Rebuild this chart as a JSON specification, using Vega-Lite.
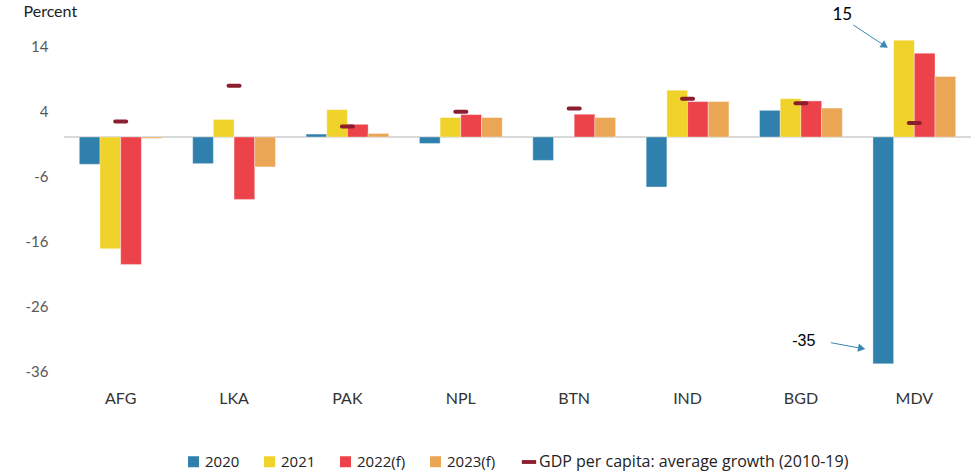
{
  "$schema": "https://vega.github.io/schema/vega-lite/v6.json",
  "width": 907,
  "height": 351,
  "autosize": {"type": "none"},
  "padding": {"left": 64, "top": 20, "right": 0, "bottom": 101},
  "background": "white",
  "config": {
    "view": {"stroke": null},
    "font": "Lato",
    "legend": {"layout": {"bottom": {"anchor": "middle", "direction": "horizontal", "margin": 25}}}
  },
  "datasets": {
    "main": [
      {"country": "AFG", "series": "2020", "value": -4.2},
      {"country": "AFG", "series": "2021", "value": -17.2},
      {"country": "AFG", "series": "2022(f)", "value": -19.6},
      {"country": "AFG", "series": "2023(f)", "value": -0.2},
      {"country": "AFG", "series": "GDP per capita: average growth (2010-19)", "value": 2.4},
      {"country": "LKA", "series": "2020", "value": -4.1},
      {"country": "LKA", "series": "2021", "value": 2.7},
      {"country": "LKA", "series": "2022(f)", "value": -9.6},
      {"country": "LKA", "series": "2023(f)", "value": -4.6},
      {"country": "LKA", "series": "GDP per capita: average growth (2010-19)", "value": 7.9},
      {"country": "PAK", "series": "2020", "value": 0.45},
      {"country": "PAK", "series": "2021", "value": 4.2},
      {"country": "PAK", "series": "2022(f)", "value": 1.95},
      {"country": "PAK", "series": "2023(f)", "value": 0.55},
      {"country": "PAK", "series": "GDP per capita: average growth (2010-19)", "value": 1.6},
      {"country": "NPL", "series": "2020", "value": -1.0},
      {"country": "NPL", "series": "2021", "value": 3.0},
      {"country": "NPL", "series": "2022(f)", "value": 3.45},
      {"country": "NPL", "series": "2023(f)", "value": 3.0},
      {"country": "NPL", "series": "GDP per capita: average growth (2010-19)", "value": 3.9},
      {"country": "BTN", "series": "2020", "value": -3.6},
      {"country": "BTN", "series": "2022(f)", "value": 3.5},
      {"country": "BTN", "series": "2023(f)", "value": 3.0},
      {"country": "BTN", "series": "GDP per capita: average growth (2010-19)", "value": 4.4},
      {"country": "IND", "series": "2020", "value": -7.7},
      {"country": "IND", "series": "2021", "value": 7.2},
      {"country": "IND", "series": "2022(f)", "value": 5.45},
      {"country": "IND", "series": "2023(f)", "value": 5.45},
      {"country": "IND", "series": "GDP per capita: average growth (2010-19)", "value": 5.9},
      {"country": "BGD", "series": "2020", "value": 4.1},
      {"country": "BGD", "series": "2021", "value": 5.9},
      {"country": "BGD", "series": "2022(f)", "value": 5.55},
      {"country": "BGD", "series": "2023(f)", "value": 4.45},
      {"country": "BGD", "series": "GDP per capita: average growth (2010-19)", "value": 5.2},
      {"country": "MDV", "series": "2020", "value": -34.9},
      {"country": "MDV", "series": "2021", "value": 14.9},
      {"country": "MDV", "series": "2022(f)", "value": 12.9},
      {"country": "MDV", "series": "2023(f)", "value": 9.3},
      {"country": "MDV", "series": "GDP per capita: average growth (2010-19)", "value": 2.15}
    ]
  },
  "layer": [
    {
      "data": {"values": [{}]},
      "mark": {"type": "rule", "color": "#d9d9d9", "strokeWidth": 2},
      "encoding": {"y": {"datum": 0, "type": "quantitative", "scale": {"domain": [-36, 18], "nice": false, "zero": false}}}
    },
    {
      "data": {"name": "main"},
      "transform": [{"filter": "datum.series !== 'GDP per capita: average growth (2010-19)'"}],
      "mark": {"type": "bar", "stroke": "#ffffff", "strokeWidth": 0.6, "strokeOpacity": 0.6},
      "encoding": {
        "x": {
          "field": "country", "type": "nominal",
          "sort": ["AFG", "LKA", "PAK", "NPL", "BTN", "IND", "BGD", "MDV"],
          "scale": {"paddingInner": 0.27, "paddingOuter": 0.135},
          "axis": {"title": null, "labelAngle": 0, "ticks": false, "domain": false, "labelPadding": 19, "labelFontSize": 16, "labelColor": "#333333", "labelFont": "Lato"}
        },
        "xOffset": {"field": "series", "type": "nominal", "sort": ["2020", "2021", "2022(f)", "2023(f)"], "scale": {"paddingInner": 0, "paddingOuter": 0}},
        "y": {
          "field": "value", "type": "quantitative",
          "scale": {"domain": [-36, 18], "nice": false, "zero": false},
          "axis": {
            "title": "Percent", "titleAngle": 0, "titleAlign": "left", "titleBaseline": "alphabetic",
            "titleX": -41, "titleY": -4, "titleFontSize": 16, "titleFontWeight": "normal", "titleColor": "#222222", "titleFont": "Lato",
            "values": [-36, -26, -16, -6, 4, 14], "grid": false, "domain": false, "ticks": false,
            "labelExpr": "toString(datum.value)",
            "labelPadding": 16, "labelFontSize": 15, "labelColor": "#595959", "labelFont": "Lato"
          }
        },
        "color": {
          "field": "series", "type": "nominal",
          "scale": {
            "domain": ["2020", "2021", "2022(f)", "2023(f)"],
            "range": ["#2f80ad", "#f0d32a", "#eb4349", "#eaa555"]
          },
          "legend": {
            "title": null, "orient": "bottom", "direction": "horizontal", "offset": 48,
            "symbolType": "square", "symbolSize": 121, "symbolStrokeWidth": 0,
            "labelFontSize": 15, "labelColor": "#222222", "labelFont": "Open Sans", "labelLimit": 0,
            "labelOffset": 4, "columnPadding": 22
          }
        }
      }
    },
    {
      "data": {"name": "main"},
      "transform": [{"filter": "datum.series === 'GDP per capita: average growth (2010-19)'"}],
      "mark": {"type": "tick", "size": 15, "thickness": 4, "cornerRadius": 2, "opacity": 1},
      "encoding": {
        "x": {"field": "country", "type": "nominal", "sort": ["AFG", "LKA", "PAK", "NPL", "BTN", "IND", "BGD", "MDV"]},
        "y": {"field": "value", "type": "quantitative"},
        "fill": {
          "field": "series", "type": "nominal",
          "scale": {"domain": ["GDP per capita: average growth (2010-19)"], "range": ["#8b1f2f"]},
          "legend": {
            "title": null, "orient": "bottom", "direction": "horizontal", "offset": 48,
            "symbolType": "M-1.3,-0.35H1.3V0.35H-1.3Z", "symbolSize": 121, "symbolStrokeWidth": 0,
            "labelFontSize": 16, "labelColor": "#222222", "labelFont": "Open Sans", "labelLimit": 0,
            "labelOffset": 2
          }
        }
      }
    },
    {
      "data": {"values": [{"country": "MDV", "label": "15", "value": 18.8}]},
      "mark": {"type": "text", "dx": -72, "fontSize": 17, "font": "Lato", "color": "#000000", "baseline": "middle", "align": "center"},
      "encoding": {
        "x": {"field": "country", "type": "nominal", "sort": ["AFG", "LKA", "PAK", "NPL", "BTN", "IND", "BGD", "MDV"]},
        "y": {"field": "value", "type": "quantitative"},
        "text": {"field": "label"}
      }
    },
    {
      "data": {"values": [{"country": "MDV", "start": 17.23, "end": 14.03}]},
      "mark": {"type": "rule", "color": "#3a86b4", "strokeWidth": 1, "xOffset": -61, "x2Offset": -29.5},
      "encoding": {
        "x": {"field": "country", "type": "nominal", "sort": ["AFG", "LKA", "PAK", "NPL", "BTN", "IND", "BGD", "MDV"]},
        "x2": {"field": "country"},
        "y": {"field": "start", "type": "quantitative"},
        "y2": {"field": "end"}
      }
    },
    {
      "data": {"values": [{"country": "MDV", "value": 14.03}]},
      "mark": {"type": "point", "shape": "triangle-right", "filled": true, "color": "#3a86b4", "opacity": 1, "size": 70, "angle": 33.5, "xOffset": -29.5},
      "encoding": {
        "x": {"field": "country", "type": "nominal", "sort": ["AFG", "LKA", "PAK", "NPL", "BTN", "IND", "BGD", "MDV"]},
        "y": {"field": "value", "type": "quantitative"}
      }
    },
    {
      "data": {"values": [{"country": "MDV", "label": "-35", "value": -31.38}]},
      "mark": {"type": "text", "dx": -110.5, "fontSize": 16, "font": "Liberation Sans", "color": "#000000", "baseline": "middle", "align": "center"},
      "encoding": {
        "x": {"field": "country", "type": "nominal", "sort": ["AFG", "LKA", "PAK", "NPL", "BTN", "IND", "BGD", "MDV"]},
        "y": {"field": "value", "type": "quantitative"},
        "text": {"field": "label"}
      }
    },
    {
      "data": {"values": [{"country": "MDV", "start": -31.65, "end": -32.52}]},
      "mark": {"type": "rule", "color": "#3a86b4", "strokeWidth": 1, "xOffset": -83.3, "x2Offset": -52.6},
      "encoding": {
        "x": {"field": "country", "type": "nominal", "sort": ["AFG", "LKA", "PAK", "NPL", "BTN", "IND", "BGD", "MDV"]},
        "x2": {"field": "country"},
        "y": {"field": "start", "type": "quantitative"},
        "y2": {"field": "end"}
      }
    },
    {
      "data": {"values": [{"country": "MDV", "value": -32.52}]},
      "mark": {"type": "point", "shape": "triangle-right", "filled": true, "color": "#3a86b4", "opacity": 1, "size": 70, "angle": 10.5, "xOffset": -52.6},
      "encoding": {
        "x": {"field": "country", "type": "nominal", "sort": ["AFG", "LKA", "PAK", "NPL", "BTN", "IND", "BGD", "MDV"]},
        "y": {"field": "value", "type": "quantitative"}
      }
    }
  ]
}
